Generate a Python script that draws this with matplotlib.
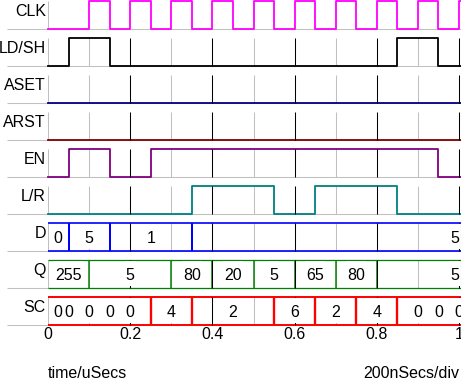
import matplotlib
matplotlib.use('Agg')
import matplotlib.pyplot as plt
from matplotlib.patches import Rectangle

plt.rcParams['font.family'] = ['Liberation Sans', 'DejaVu Sans']

# signal names, top to bottom
row_names = ['CLK', 'LD/SH', 'ASET', 'ARST', 'EN', 'L/R', 'D', 'Q', 'SC']

# digital signals: start low, toggle at these times (uSecs)
clk_edges = [0.1, 0.15, 0.2, 0.25, 0.3, 0.35, 0.4, 0.45, 0.5, 0.55,
             0.6, 0.65, 0.7, 0.75, 0.8, 0.85, 0.9, 0.95, 1.0]
ldsh_edges = [0.05, 0.15, 0.85, 0.95]
aset_edges = []
arst_edges = []
en_edges = [0.05, 0.15, 0.25, 0.95]
lr_edges = [0.35, 0.55, 0.65, 0.85]

# buses: segment start times and values (end None = runs past the view)
d_times = [0, 0.05, 0.15, 0.35]
d_values = ['0', '5', '1', '5']
d_end = None
q_times = [0, 0.1, 0.3, 0.4, 0.5, 0.6, 0.7, 0.8]
q_values = ['255', '5', '80', '20', '5', '65', '80', '5']
q_end = None
sc_times = [0, 0.05, 0.05, 0.15, 0.15, 0.25, 0.35, 0.55, 0.65, 0.75, 0.85, 0.95, 0.95]
sc_values = ['0', '0', '0', '0', '0', '4', '2', '6', '2', '4', '0', '0', '0']
sc_end = 1.05

x_ticks = [0, 0.2, 0.4, 0.6, 0.8, 1.0]
x_tick_labels = ['0', '0.2', '0.4', '0.6', '0.8', '1']
minor_grid = [0.1, 0.3, 0.5, 0.7, 0.9]

digital = {'CLK': (clk_edges, '#ff00ff'), 'LD/SH': (ldsh_edges, 'black'),
           'ASET': (aset_edges, '#000080'), 'ARST': (arst_edges, '#800000'),
           'EN': (en_edges, '#800080'), 'L/R': (lr_edges, '#008080')}
buses = {'D': (d_times, d_values, d_end, '#0000ff', 1.2),
         'Q': (q_times, q_values, q_end, '#008000', 0.9),
         'SC': (sc_times, sc_values, sc_end, '#ff0000', 1.4)}

FS = 11.5
PITCH = 37.0
AMP = 27.5
GREY = '#c0c0c0'
XR = 1.0049   # right edge of picture in time units

fig = plt.figure(figsize=(4.61, 3.79), dpi=100)
ax = fig.add_axes([48 / 461, (379 - 326) / 379, 411 / 461, 326 / 379])
ax.set_xlim(0, 1)
ax.set_ylim(326, 0)
for s in ax.spines.values():
    s.set_visible(False)
ax.set_yticks([])
ax.set_xticks(x_ticks)
ax.set_xticklabels(x_tick_labels)
ax.tick_params(axis='x', length=0, pad=0.5, labelsize=FS)

bus_texts = []
for k, name in enumerate(row_names):
    bot = 28.5 + PITCH * k
    top = bot - AMP
    # row separator and left edge
    ax.hlines(bot, -0.1, XR, color=GREY, lw=0.75, zorder=1, clip_on=False)
    ax.vlines(0, top, bot, color=GREY, lw=0.75, zorder=1)
    if k > 0:
        ax.vlines(minor_grid, top, bot, color=GREY, lw=0.75, zorder=1)
        ax.vlines(x_ticks[1:], top, bot, color='black', lw=0.75, zorder=3, clip_on=False)
    ax.text(-0.005, bot - 12.3, name, ha='right', va='baseline', fontsize=FS, clip_on=False)

    if name in digital:
        edges, col = digital[name]
        xs = [0] + edges + [XR]
        ys = []
        lvl = 0
        for i in range(len(edges) + 1):
            ys.append(top if lvl else bot)
            lvl = 1 - lvl
        ys.append(ys[-1])
        ax.step(xs, ys, where='post', color=col, lw=1.3, zorder=2, clip_on=False)
    else:
        times, vals, end, col, lw = buses[name]
        stop = XR if end is None else end
        ax.hlines([top, bot], 0, stop, color=col, lw=lw, zorder=2, clip_on=False)
        for i in range(len(times)):
            if i > 0 and vals[i] != vals[i - 1]:
                ax.vlines(times[i], top, bot, color=col, lw=lw * 1.2, zorder=2)
            seg_end = times[i + 1] if i + 1 < len(times) else end
            if seg_end is None:
                x, ha = 1.0, 'right'
            else:
                x, ha = (times[i] + seg_end) / 2, 'center'
            t = ax.text(x, bot - 7.8, vals[i], ha=ha, va='baseline', fontsize=FS,
                        zorder=6, clip_on=False)
            bus_texts.append((t, top, bot))

ax.text(0, 378, 'time/uSecs', ha='left', va='baseline', fontsize=FS, clip_on=False)
ax.text(1.0, 378, '200nSecs/div', ha='right', va='baseline', fontsize=FS, clip_on=False)

# white boxes behind the bus values hide the grid lines
fig.canvas.draw()
inv = ax.transData.inverted()
for t, top, bot in bus_texts:
    bb = t.get_window_extent()
    x0 = inv.transform((bb.x0 - 1, 0))[0]
    x1 = inv.transform((bb.x1 + 1, 0))[0]
    ax.add_patch(Rectangle((x0, top + 1.4), x1 - x0, (bot - top) - 2.8,
                           facecolor='white', edgecolor='none', zorder=5, clip_on=False))

fig.savefig('out.png', dpi=100)
